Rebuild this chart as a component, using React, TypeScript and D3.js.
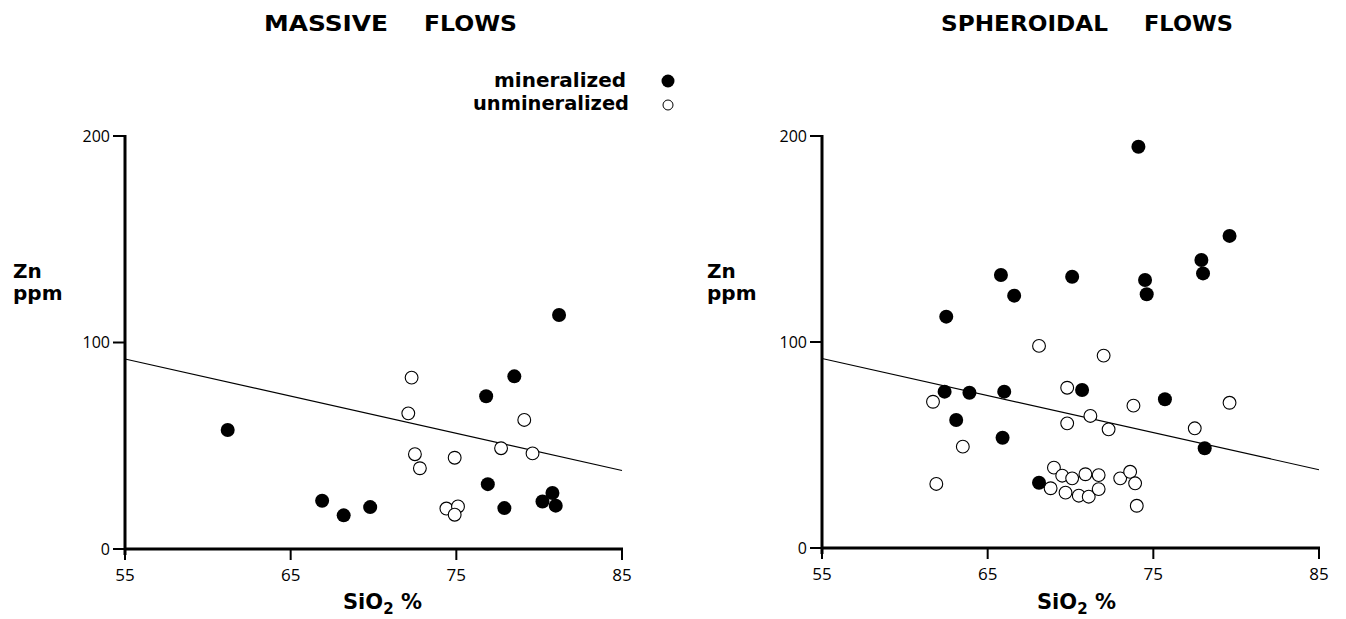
import React from "react";
import * as d3 from "d3";

// ---- data ----
const xTicks = [55, 65, 75, 85];
const yTicks = [0, 100, 200];
const fitLine = [
  { x: 55, y: 92 },
  { x: 85, y: 38 },
];

const massiveMineralized = [
  { x: 61.2, y: 57.6 }, { x: 66.9, y: 23.4 }, { x: 68.2, y: 16.3 }, { x: 69.8, y: 20.3 },
  { x: 76.8, y: 74.0 }, { x: 78.5, y: 83.6 }, { x: 76.9, y: 31.4 }, { x: 77.9, y: 19.8 },
  { x: 80.2, y: 23.0 }, { x: 80.8, y: 27.1 }, { x: 81.0, y: 21.0 }, { x: 81.2, y: 113.3 },
];
const massiveUnmineralized = [
  { x: 72.3, y: 83.0 }, { x: 72.1, y: 65.7 }, { x: 72.5, y: 45.9 }, { x: 72.8, y: 39.1 },
  { x: 74.9, y: 44.2 }, { x: 74.4, y: 19.6 }, { x: 75.1, y: 20.6 }, { x: 74.9, y: 16.6 },
  { x: 77.7, y: 48.8 }, { x: 79.1, y: 62.5 }, { x: 79.6, y: 46.3 },
];
const spheroidalMineralized = [
  { x: 74.1, y: 194.8 }, { x: 79.6, y: 151.5 }, { x: 77.9, y: 139.8 }, { x: 78.0, y: 133.3 },
  { x: 74.5, y: 130.1 }, { x: 74.6, y: 123.2 }, { x: 70.1, y: 131.7 }, { x: 65.8, y: 132.5 },
  { x: 66.6, y: 122.5 }, { x: 62.5, y: 112.3 }, { x: 62.4, y: 75.9 }, { x: 63.9, y: 75.4 },
  { x: 66.0, y: 75.9 }, { x: 63.1, y: 62.1 }, { x: 65.9, y: 53.5 }, { x: 70.7, y: 76.7 },
  { x: 75.7, y: 72.2 }, { x: 78.1, y: 48.4 }, { x: 68.1, y: 31.7 },
];
const spheroidalUnmineralized = [
  { x: 68.1, y: 98.1 }, { x: 72.0, y: 93.4 }, { x: 69.8, y: 77.8 }, { x: 61.7, y: 71.0 },
  { x: 73.8, y: 69.1 }, { x: 79.6, y: 70.5 }, { x: 71.2, y: 64.1 }, { x: 69.8, y: 60.5 },
  { x: 72.3, y: 57.6 }, { x: 77.5, y: 58.1 }, { x: 63.5, y: 49.2 }, { x: 61.9, y: 31.1 },
  { x: 69.0, y: 39.0 }, { x: 69.5, y: 35.1 }, { x: 70.1, y: 33.8 }, { x: 70.9, y: 35.8 },
  { x: 71.7, y: 35.4 }, { x: 73.0, y: 33.8 }, { x: 73.6, y: 37.0 }, { x: 73.9, y: 31.4 },
  { x: 68.8, y: 29.0 }, { x: 69.7, y: 26.9 }, { x: 70.5, y: 25.4 }, { x: 71.1, y: 24.9 },
  { x: 71.7, y: 28.6 }, { x: 74.0, y: 20.5 },
];

const FONT = "'DejaVu Sans', 'Open Sans', sans-serif";
const TFONT = "'Open Sans', 'DejaVu Sans', sans-serif";

type Pt = { x: number; y: number };

type PanelProps = {
  x0: number; x1: number; y0: number; y1: number;
  filled: Pt[]; open: Pt[];
  titleA: string; titleB: string;
  tA: [number, number]; tB: [number, number];
  labelX: number; sioX: number;
};

function Panel({ x0, x1, y0, y1, filled, open, titleA, titleB, tA, tB, labelX, sioX }: PanelProps) {
  const x = d3.scaleLinear().domain([55, 85]).range([x0, x1]);
  const y = d3.scaleLinear().domain([0, 200]).range([y0, y1]);
  const line = d3.line<Pt>().x((d) => x(d.x)).y((d) => y(d.y));
  return (
    <g>
      <text x={tA[0]} y={31} fontFamily={FONT} fontWeight={700} fontSize={21}
        textLength={tA[1] - tA[0]} lengthAdjust="spacingAndGlyphs">{titleA}</text>
      <text x={tB[0]} y={31} fontFamily={FONT} fontWeight={700} fontSize={21}
        textLength={tB[1] - tB[0]} lengthAdjust="spacingAndGlyphs">{titleB}</text>
      {/* y axis */}
      <line x1={x0} x2={x0} y1={y1 - 1} y2={y0 + 6} stroke="#000" strokeWidth={3} />
      {yTicks.map((t) => (
        <g key={t}>
          <line x1={x0 - 12} x2={x0} y1={y(t)} y2={y(t)} stroke="#000" strokeWidth={2} />
          <text x={x0 - 15} y={y(t) + 5.5} textAnchor="end" fontFamily={TFONT} fontSize={16}>{t}</text>
        </g>
      ))}
      {/* x axis */}
      <line x1={x0 - 1} x2={x1 + 1} y1={y0} y2={y0} stroke="#000" strokeWidth={3} />
      {xTicks.map((t) => (
        <g key={t}>
          <line x1={x(t)} x2={x(t)} y1={y0} y2={y0 + 11} stroke="#000" strokeWidth={2} />
          <text x={x(t)} y={y0 + 32} textAnchor="middle" fontFamily={TFONT} fontSize={17}>{t}</text>
        </g>
      ))}
      <text x={labelX} y={278} fontFamily={FONT} fontWeight={700} fontSize={20}>Zn</text>
      <text x={labelX} y={300} fontFamily={FONT} fontWeight={700} fontSize={20}>ppm</text>
      <text x={sioX} y={609} fontFamily={FONT} fontWeight={700} fontSize={21}>
        SiO<tspan fontSize={15} dy={5}>2</tspan><tspan dy={-5}>{" %"}</tspan>
      </text>
      <path d={line(fitLine) || ""} fill="none" stroke="#000" strokeWidth={1.2} />
      {open.map((d, i) => (
        <circle key={"o" + i} cx={x(d.x)} cy={y(d.y)} r={6.4} fill="#fff" stroke="#000" strokeWidth={1.1} />
      ))}
      {filled.map((d, i) => (
        <circle key={"f" + i} cx={x(d.x)} cy={y(d.y)} r={7} fill="#000" />
      ))}
    </g>
  );
}

export default function App() {
  return (
    <svg width={1346} height={619}
      style={{ position: "absolute", left: 0, top: 0, display: "block", background: "#fff" }}>
      <rect x={0} y={0} width={1346} height={619} fill="#fff" />
      <Panel x0={125} x1={622} y0={549} y1={136}
        filled={massiveMineralized} open={massiveUnmineralized}
        titleA="MASSIVE" titleB="FLOWS" tA={[264, 388]} tB={[424, 517]}
        labelX={13} sioX={343} />
      <Panel x0={822} x1={1319} y0={548} y1={136}
        filled={spheroidalMineralized} open={spheroidalUnmineralized}
        titleA="SPHEROIDAL" titleB="FLOWS" tA={[941, 1108]} tB={[1144, 1233]}
        labelX={707} sioX={1037} />
      {/* legend */}
      <text x={626} y={87} textAnchor="end" fontFamily={FONT} fontWeight={700} fontSize={19}
        textLength={132} lengthAdjust="spacingAndGlyphs">mineralized</text>
      <circle cx={668} cy={81} r={6.5} fill="#000" />
      <text x={629} y={110} textAnchor="end" fontFamily={FONT} fontWeight={700} fontSize={19}
        textLength={156} lengthAdjust="spacingAndGlyphs">unmineralized</text>
      <circle cx={668} cy={105} r={5} fill="#fff" stroke="#000" strokeWidth={1} />
    </svg>
  );
}
